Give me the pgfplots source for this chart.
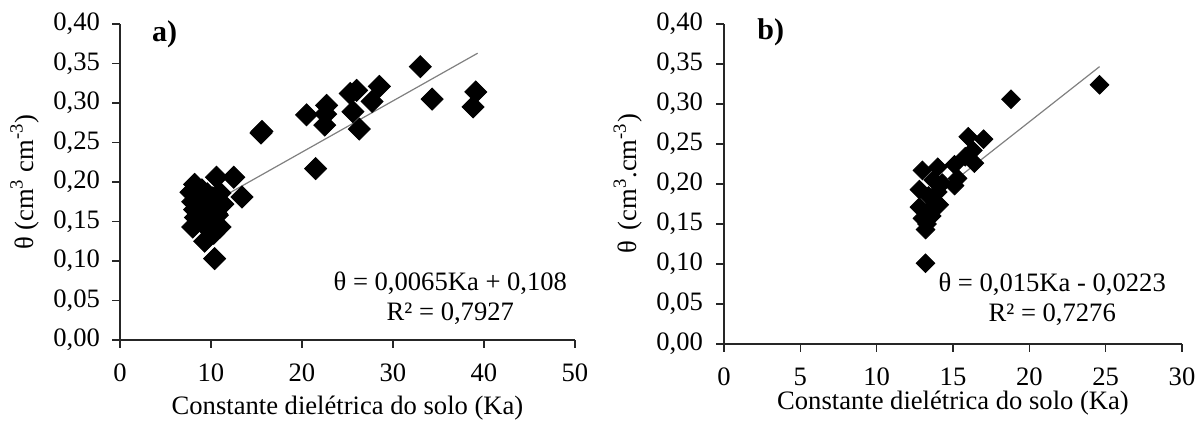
\documentclass[border=0pt]{standalone}
\usepackage{fontspec}
\setmainfont{Liberation Serif}
\usepackage{pgfplots}
\pgfplotsset{compat=1.18}
\usepackage{pgfplotstable}

\pgfplotstableread{
x y
33.0 0.346
34.3 0.305
39.1 0.314
38.8 0.295
28.5 0.321
27.7 0.302
26.0 0.316
25.3 0.312
25.6 0.289
26.3 0.267
22.7 0.297
22.6 0.286
22.5 0.272
20.5 0.285
21.5 0.217
15.6 0.264
15.5 0.262
13.4 0.181
12.5 0.206
10.6 0.206
8.2 0.197
7.8 0.187
8.0 0.143
9.3 0.125
10.4 0.103
11.0 0.143
10.6 0.160
11.3 0.172
11.0 0.186
8.0 0.175
8.2 0.165
8.3 0.155
8.8 0.180
9.0 0.168
9.3 0.158
9.6 0.148
9.9 0.138
10.3 0.135
10.5 0.148
10.7 0.158
10.9 0.168
10.2 0.180
9.6 0.185
9.0 0.190
10.0 0.165
9.5 0.172
}\dataA

\pgfplotstableread{
x y
13.2 0.101
13.2 0.143
13.0 0.157
13.5 0.168
13.8 0.178
14.0 0.190
12.8 0.193
13.0 0.217
14.0 0.221
15.1 0.224
15.3 0.207
15.1 0.198
14.3 0.201
12.8 0.171
14.1 0.174
13.4 0.185
13.6 0.160
13.3 0.150
13.7 0.205
16.0 0.259
17.0 0.256
16.3 0.242
16.4 0.226
15.8 0.234
18.8 0.306
24.6 0.324
}\dataB

\newcommand{\fs}{\fontsize{13.3}{15}\selectfont}

\pgfplotsset{
  myaxis/.style={
    scale only axis,
    axis lines=left,
    axis line style={-, black!85, line width=0.6pt},
    tick style={black!85, line width=0.6pt},
    tick align=outside,
    major tick length=4pt,
    ymin=0, ymax=0.40,
    ytick={0,0.05,...,0.40},
    yticklabel style={/pgf/number format/fixed, /pgf/number format/fixed zerofill, /pgf/number format/precision=2, /pgf/number format/use comma, /pgf/number format/assume math mode=true},
    xticklabel style={/pgf/number format/assume math mode=true, yshift=-4.5pt},
    tick label style={font=\fs, black},
    clip=false,
  },
}

\begin{document}
\begin{tikzpicture}
\useasboundingbox (0,0) rectangle (602pt,210.5pt);

\begin{axis}[myaxis,
  at={(60pt,40.5pt)}, anchor=south west,
  width=227.5pt, height=158pt,
  xmin=0, xmax=50, xtick={0,10,...,50},
  yticklabel style={xshift=-2.5pt},
  xlabel={Constante dielétrica do solo (Ka)},
  ylabel={θ (cm\textsuperscript{3} cm\textsuperscript{-3})},
  every axis x label/.style={at={(axis description cs:0.5,-0.215)}, anchor=center, font=\fs},
  every axis y label/.style={at={(axis description cs:-0.21,0.5)}, rotate=90, anchor=center, font=\fs},
]
\addplot[only marks, mark=square*, mark size=3.9pt, mark options={rotate=45, fill=black, draw=black}] table {\dataA};
\addplot[gray, line width=0.6pt] coordinates {(7.7,0.158) (39.3,0.363)};
\node[anchor=west, inner sep=0pt, font=\fontsize{15}{18}\selectfont\bfseries] at (axis cs:3.5,0.387) {a)};
\node[align=center, font=\fs, inner sep=0pt] at (axis cs:36.3,0.053) {θ = 0,0065Ka + 0,108\\R² = 0,7927};
\end{axis}

\begin{axis}[myaxis,
  at={(362pt,38.5pt)}, anchor=south west,
  width=229pt, height=160pt,
  xmin=0, xmax=30, xtick={0,5,...,30},
  yticklabel style={xshift=-3pt},
  xlabel={Constante dielétrica do solo (Ka)},
  ylabel={θ\, (cm\textsuperscript{3}.cm\textsuperscript{-3})},
  every axis x label/.style={at={(axis description cs:0.5,-0.185)}, anchor=center, font=\fs},
  every axis y label/.style={at={(axis description cs:-0.21,0.5)}, rotate=90, anchor=center, font=\fs},
]
\addplot[only marks, mark=square*, mark size=3.3pt, mark options={rotate=45, fill=black, draw=black}] table {\dataB};
\addplot[gray, line width=0.6pt] coordinates {(12.8,0.1697) (24.6,0.3467)};
\node[anchor=west, inner sep=0pt, font=\fontsize{15}{18}\selectfont\bfseries] at (axis cs:2.16,0.39) {b)};
\node[align=center, font=\fs, inner sep=0pt] at (axis cs:21.5,0.0556) {θ = 0,015Ka - 0,0223\\R² = 0,7276};
\end{axis}
\end{tikzpicture}
\end{document}
